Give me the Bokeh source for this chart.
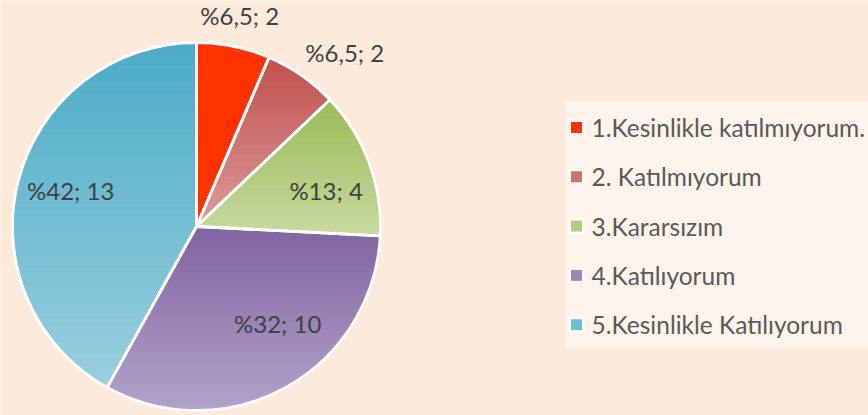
import numpy as np
from bokeh.plotting import figure
from bokeh.models import Range1d, ColumnDataSource
from bokeh.core.properties import value
from bokeh.embed import file_html
from bokeh.resources import INLINE

# ---------------- data ----------------
categories = ["1.Kesinlikle katılmıyorum.", "2. Katılmıyorum", "3.Kararsızım",
              "4.Katılıyorum", "5.Kesinlikle Katılıyorum"]
counts = [2, 2, 4, 10, 13]
percent_labels = ["%6,5", "%6,5", "%13", "%32", "%42"]

# ---------------- styles / layout ----------------
top_colors = ["#FF3300", "#C0504D", "#9BBB59", "#8064A2", "#4BACC6"]
bottom_colors = ["#FF3300", "#DC9D9B", "#C8DA9F", "#B3A3C8", "#9ACFDE"]
swatch_colors = ["#FF3300", "#CD7372", "#B3CB80", "#9D88B8", "#6FBDD3"]
BG = "#FDEADA"
LEGEND_BG = "#FEF4EB"

W, H = 868, 415
CX, CY, R = 196, H - 226, 184
label_r = [215, 228, 135, 126, 130]
label_dx = [0, 18, 3, 20, 0]
label_dy = [0, 13, 11, -13, -3]   # screen px, positive = down
N_BANDS = 60


def hex2rgb(h):
    h = h.lstrip("#")
    return np.array([int(h[i:i + 2], 16) for i in (0, 2, 4)], dtype=float)


def rgb2hex(c):
    c = np.clip(np.round(c), 0, 255).astype(int)
    return "#%02x%02x%02x" % tuple(c)


def clip_half(pts, keep_above, yv):
    out = []
    n = len(pts)
    for i in range(n):
        p = pts[i]
        q = pts[(i + 1) % n]
        pin = p[1] >= yv if keep_above else p[1] <= yv
        qin = q[1] >= yv if keep_above else q[1] <= yv
        if pin:
            out.append(p)
        if pin != qin:
            t = (yv - p[1]) / (q[1] - p[1])
            out.append((p[0] + t * (q[0] - p[0]), yv))
    return out


total = float(sum(counts))
cum = np.concatenate([[0.0], np.cumsum(counts)])
theta_a = np.pi / 2 - 2 * np.pi * cum[:-1] / total   # clockwise start
theta_b = np.pi / 2 - 2 * np.pi * cum[1:] / total    # clockwise end
mid = (theta_a + theta_b) / 2

p = figure(width=W, height=H, x_range=Range1d(0, W), y_range=Range1d(0, H),
           output_backend="svg", toolbar_location=None, min_border=0)
p.axis.visible = False
p.grid.visible = False
p.outline_line_color = None
p.background_fill_color = BG
p.border_fill_color = BG

# base wedges (solid mid tone)
p.wedge(x=CX, y=CY, radius=R, start_angle=theta_b, end_angle=theta_a,
        fill_color=swatch_colors, line_color=None)

# vertical gradient bands per slice
bxs, bys, bcols = [], [], []
for i in range(len(counts)):
    angs = np.linspace(theta_a[i], theta_b[i], 200)
    poly = [(CX, CY)] + [(CX + R * np.cos(a), CY + R * np.sin(a)) for a in angs]
    ys_all = [pt[1] for pt in poly]
    ymin, ymax = min(ys_all), max(ys_all)
    hgt = (ymax - ymin) / N_BANDS
    c0, c1 = hex2rgb(top_colors[i]), hex2rgb(bottom_colors[i])
    for k in range(N_BANDS):
        yhi = ymax - k * hgt
        ylo = yhi - hgt
        part = clip_half(poly, True, ylo)
        if len(part) < 3:
            continue
        part = clip_half(part, False, yhi)
        if len(part) < 3:
            continue
        t = (k + 0.5) / N_BANDS
        bxs.append([pt[0] for pt in part])
        bys.append([pt[1] for pt in part])
        bcols.append(rgb2hex(c0 + (c1 - c0) * t))
p.patches(bxs, bys, fill_color=bcols, line_color=bcols, line_width=0.8)

# white slice borders
p.wedge(x=CX, y=CY, radius=R, start_angle=theta_b, end_angle=theta_a,
        fill_color=None, line_color="white", line_width=2.8)

# data labels
lab_src = ColumnDataSource(dict(
    x=[CX + label_r[i] * np.cos(mid[i]) for i in range(len(counts))],
    y=[CY + label_r[i] * np.sin(mid[i]) for i in range(len(counts))],
    text=["%s; %d" % (percent_labels[i], counts[i]) for i in range(len(counts))],
    dx=label_dx, dy=label_dy))
p.text(x="x", y="y", text="text", x_offset="dx", y_offset="dy", source=lab_src,
       text_align="center", text_baseline="middle",
       text_font=value("Lato"), text_font_size="24px", text_color="#404040")

# legend (drawn manually)
LEG_L, LEG_T, LEG_B = 565, 100, 348
p.quad(left=LEG_L, right=W + 5, bottom=H - LEG_B, top=H - LEG_T,
       fill_color=LEGEND_BG, line_color=None)
item_y = [H - (127 + i * 49.3) for i in range(len(categories))]
p.scatter(x=[576] * len(categories), y=item_y, marker="square", size=16,
          fill_color="white", line_color=None)
p.scatter(x=[576] * len(categories), y=item_y, marker="square", size=11,
          fill_color=swatch_colors, line_color=None)
p.text(x=[591] * len(categories), y=item_y, text=categories,
       text_align="left", text_baseline="middle",
       text_font=value("Lato"), text_font_size="24.5px", text_color="#595959")

open("out.html", "w").write(file_html(p, INLINE))
